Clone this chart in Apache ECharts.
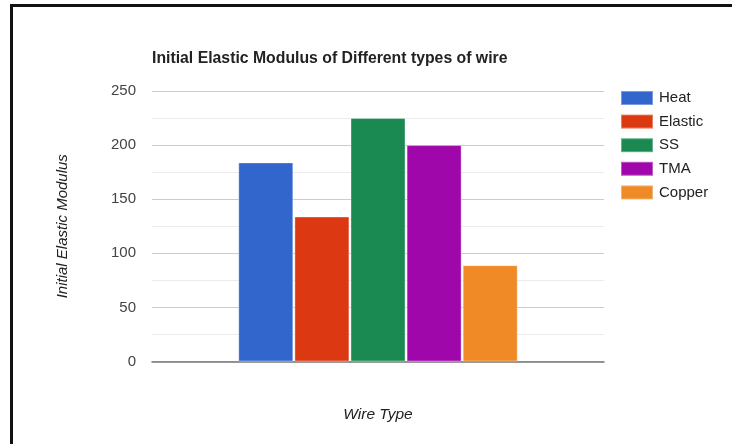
<!DOCTYPE html>
<html>
<head>
<meta charset="utf-8">
<script src="https://cdn.jsdelivr.net/npm/echarts@6/dist/echarts.min.js"></script>
<style>
html,body{margin:0;padding:0;background:#fff;}
#c{width:732px;height:444px;}
</style>
</head>
<body>
<div id="c"></div>
<script>
const wireTypes = ['Heat', 'Elastic', 'SS', 'TMA', 'Copper'];
const modulusValues = [184, 134, 225, 200, 89];
const seriesColors = ['#3366cc', '#dc3912', '#1b8a52', '#a007ab', '#ef8a26'];
const xCategories = ['Wire Type'];

const chart = echarts.init(document.getElementById('c'), null, {renderer: 'canvas'});
const fontFam = '"Liberation Sans", Arial, sans-serif';

const series = wireTypes.map((name, i) => ({
  name: name,
  type: 'bar',
  data: [modulusValues[i]],
  barWidth: 55,
  barGap: '2%',
  itemStyle: {color: seriesColors[i], borderColor: 'rgba(255,255,255,0.35)', borderWidth: 1},
  emphasis: {disabled: true}
}));

chart.setOption({
  animation: false,
  backgroundColor: '#fff',
  color: seriesColors,
  title: {
    text: 'Initial Elastic Modulus of Different types of wire',
    left: 152, top: 51, padding: 0,
    textStyle: {fontFamily: fontFam, fontSize: 15.8, fontWeight: 'bold', color: '#222'}
  },
  legend: {
    orient: 'vertical',
    left: 620, top: 90, padding: 0,
    itemWidth: 32, itemHeight: 14, itemGap: 7.6,
    icon: 'rect',
    textStyle: {fontFamily: fontFam, fontSize: 15, color: '#222', padding: [0,0,0,1]},
    data: wireTypes
  },
  grid: {left: 152, right: 128, top: 91, bottom: 82.5},
  xAxis: {
    type: 'category',
    data: xCategories,
    name: 'Wire Type',
    nameLocation: 'middle',
    nameGap: 45,
    nameTextStyle: {fontFamily: fontFam, fontSize: 15.5, fontStyle: 'italic', color: '#222'},
    axisLine: {lineStyle: {color: '#777', width: 1.5}},
    axisTick: {show: false},
    axisLabel: {show: false}
  },
  yAxis: {
    type: 'value',
    min: 0, max: 250, interval: 50,
    name: 'Initial Elastic Modulus',
    nameLocation: 'middle',
    nameGap: 82,
    nameTextStyle: {fontFamily: fontFam, fontSize: 15, fontStyle: 'italic', color: '#222'},
    axisLine: {show: false},
    axisTick: {show: false},
    axisLabel: {fontFamily: fontFam, fontSize: 15, color: '#444', margin: 16},
    splitLine: {lineStyle: {color: '#cccccc', width: 1}},
    minorTick: {show: false, splitNumber: 2},
    minorSplitLine: {show: true, lineStyle: {color: '#ebebeb', width: 1}}
  },
  graphic: [
    {type: 'rect', shape: {x: 10, y: 4, width: 722, height: 3}, style: {fill: '#111'}, silent: true},
    {type: 'rect', shape: {x: 10, y: 4, width: 3, height: 440}, style: {fill: '#111'}, silent: true}
  ],
  series: series
});
</script>
</body>
</html>
